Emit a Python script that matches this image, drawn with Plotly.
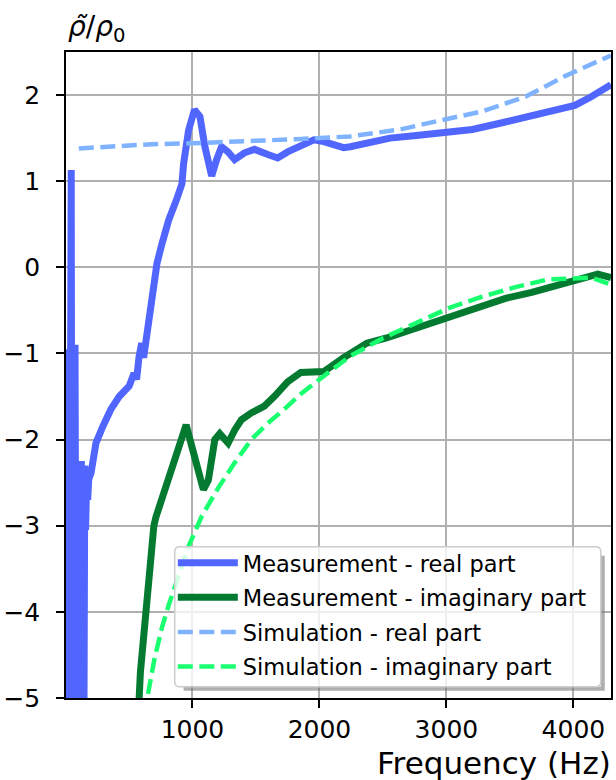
import plotly.graph_objects as go

# Measured effective density, real part (ratio to rho_0) versus frequency (Hz)
meas_re_f = [4, 10, 16, 22, 30, 38, 45, 52, 60, 68, 75, 85, 100, 110, 118, 125, 132,
             138, 145, 152, 158, 165, 175, 183, 201, 240, 293, 357, 423, 501, 540,
             560, 579, 600, 615, 630, 657, 696, 721, 761, 813, 878, 917, 930, 969,
             1016, 1059, 1098, 1151, 1190, 1229, 1281, 1332, 1410, 1488, 1593, 1671,
             1749, 1853, 1956, 2034, 2139, 2190, 2243, 2373, 2555, 2763, 2997, 3204,
             3413, 3672, 3881, 4011, 4140, 4296]
meas_re_v = [-6.0, -1.0, -6.0, -0.95, -6.0, -1.0, 1.13, -6.0, -0.9, -6.0, -0.9, -6.0,
             -3.4, -6.0, -6.0, -2.25, -3.2, -2.3, -5.5, -2.3, -3.05, -2.6, -2.7, -2.46,
             -2.39, -2.04, -1.85, -1.65, -1.50, -1.38, -1.23, -1.30, -1.04, -0.88,
             -1.05, -0.89, -0.60, -0.26, 0.05, 0.28, 0.55, 0.80, 0.97, 1.20, 1.59,
             1.83, 1.75, 1.40, 1.06, 1.25, 1.40, 1.34, 1.25, 1.33, 1.37, 1.31, 1.27,
             1.34, 1.42, 1.48, 1.46, 1.40, 1.39, 1.40, 1.44, 1.50, 1.53, 1.56, 1.60,
             1.67, 1.77, 1.83, 1.88, 1.98, 2.12]

# Measured effective density, imaginary part
meas_im_f = [560, 579, 590, 618, 644, 669, 682, 696, 712, 735, 786, 839, 891, 950,
             995, 1047, 1086, 1125, 1176, 1215, 1281, 1332, 1385, 1463, 1566, 1644,
             1749, 1853, 2034, 2190, 2373, 2529, 2763, 2997, 3231, 3465, 3672, 3906,
             4114, 4192, 4296]
meas_im_v = [-5.6, -4.98, -4.7, -4.25, -3.85, -3.35, -3.13, -3.0, -2.9, -2.8, -2.58,
             -2.31, -2.08, -1.83, -2.08, -2.39, -2.58, -2.47, -2.00, -1.93, -2.04,
             -1.89, -1.77, -1.69, -1.61, -1.50, -1.33, -1.22, -1.21, -1.05, -0.88,
             -0.82, -0.70, -0.59, -0.47, -0.36, -0.29, -0.20, -0.10, -0.08, -0.12]

# Simulated effective density, real part
sim_re_f = [105, 400, 683, 995, 1400, 1853, 2243, 2373, 2633, 2997, 3282, 3621,
            3933, 4296]
sim_re_v = [1.38, 1.41, 1.43, 1.44, 1.46, 1.49, 1.52, 1.55, 1.60, 1.72, 1.81, 1.98,
            2.22, 2.46]

# Simulated effective density, imaginary part
sim_im_f = [630, 644, 700, 760, 813, 864, 920, 969, 1073, 1203, 1332, 1463, 1593,
            1722, 1853, 1983, 2243, 2502, 2763, 3023, 3282, 3543, 3802, 4011, 4140,
            4296]
sim_im_v = [-5.2, -5.0, -4.55, -4.18, -3.92, -3.68, -3.45, -3.24, -2.89, -2.56,
            -2.27, -2.00, -1.81, -1.65, -1.47, -1.32, -1.03, -0.82, -0.65, -0.47,
            -0.34, -0.23, -0.14, -0.12, -0.12, -0.20]

x_ticks = [1000, 2000, 3000, 4000]
y_ticks = [-5, -4, -3, -2, -1, 0, 1, 2]

series_names = ["Measurement - real part", "Measurement - imaginary part",
                "Simulation - real part", "Simulation - imaginary part"]

FONT = "DejaVu Sans"
C_MEAS_RE = "#5066FF"
C_MEAS_IM = "#037A30"
C_SIM_RE = "#80B3FF"
C_SIM_IM = "#1AFF70"
DASH = "15px,6.5px"

fig = go.Figure()
fig.add_trace(go.Scatter(x=meas_re_f, y=meas_re_v, mode="lines", name=series_names[0],
                         legendgroup="a", line=dict(color=C_MEAS_RE, width=7)))
fig.add_trace(go.Scatter(x=meas_im_f, y=meas_im_v, mode="lines", name=series_names[1],
                         legendgroup="b", line=dict(color=C_MEAS_IM, width=7)))
fig.add_trace(go.Scatter(x=sim_re_f, y=sim_re_v, mode="lines", name=series_names[2],
                         legendgroup="c", line=dict(color=C_SIM_RE, width=4.5, dash=DASH)))
fig.add_trace(go.Scatter(x=sim_im_f, y=sim_im_v, mode="lines", name=series_names[3],
                         legendgroup="d", line=dict(color=C_SIM_IM, width=4.5, dash=DASH)))

axis_common = dict(
    showgrid=True, gridcolor="#b0b0b0", gridwidth=1.5,
    showline=True, linecolor="black", linewidth=1.5, mirror=True,
    ticks="outside", ticklen=8, tickwidth=1.5, tickcolor="black",
    tickfont=dict(family=FONT, size=25, color="black"),
    zeroline=False,
)

fig.update_xaxes(range=[4, 4296], tickvals=x_ticks, **axis_common)
fig.update_yaxes(range=[-5, 2.5], tickvals=y_ticks, ticklabelstandoff=11, **axis_common)


def rounded_rect(x0, y0, x1, y1, rx, ry):
    """SVG path of a rectangle with rounded corners, in paper units."""
    return (f"M {x0 + rx},{y0} L {x1 - rx},{y0} Q {x1},{y0} {x1},{y0 + ry} "
            f"L {x1},{y1 - ry} Q {x1},{y1} {x1 - rx},{y1} "
            f"L {x0 + rx},{y1} Q {x0},{y1} {x0},{y1 - ry} "
            f"L {x0},{y0 + ry} Q {x0},{y0} {x0 + rx},{y0} Z")


# Legend frame, with a drop shadow on its lower right
lx0, ly0, lx1, ly1 = 0.1995, 0.0175, 0.9813, 0.234
sx, sy = 4 / 550, 4 / 646
rx, ry = 5 / 550, 5 / 646
shadow_path = (f"M {lx1},{ly1 - sy - ry} L {lx1 + sx},{ly1 - sy - ry} "
               f"L {lx1 + sx},{ly0 - sy} L {lx0 + sx + rx},{ly0 - sy} "
               f"L {lx0 + sx + rx},{ly0} L {lx1},{ly0} Z")
fig.add_shape(type="path", xref="paper", yref="paper", path=shadow_path,
              fillcolor="rgba(110,110,110,0.55)", line=dict(width=0), layer="above")
fig.add_shape(type="path", xref="paper", yref="paper",
              path=rounded_rect(lx0, ly0, lx1, ly1, rx, ry),
              fillcolor="rgba(255,255,255,0.8)", line=dict(color="#cccccc", width=1.5),
              layer="above")

fig.update_layout(
    width=616, height=780,
    margin=dict(l=63, r=3, t=52, b=82),
    paper_bgcolor="white", plot_bgcolor="white",
    font=dict(family=FONT, color="black"),
    showlegend=True,
    legend=dict(x=0.196, y=0.242, xanchor="left", yanchor="top",
                bgcolor="rgba(0,0,0,0)", borderwidth=0,
                font=dict(family=FONT, size=22.5, color="black"),
                itemwidth=60, tracegroupgap=2.3),
    annotations=[
        dict(text="<i>ρ̃</i>/<i>ρ</i><sub>0</sub>", xref="paper", yref="paper",
             x=0, y=1.0, xanchor="left", yanchor="bottom", yshift=3, showarrow=False,
             font=dict(family=FONT, size=28, color="black")),
        dict(text="Frequency (Hz)", xref="paper", yref="paper",
             x=1.0, y=0, xanchor="right", yanchor="top", yshift=-45, xshift=2,
             showarrow=False, font=dict(family=FONT, size=31, color="black")),
    ],
)

fig.write_html("out.html")
